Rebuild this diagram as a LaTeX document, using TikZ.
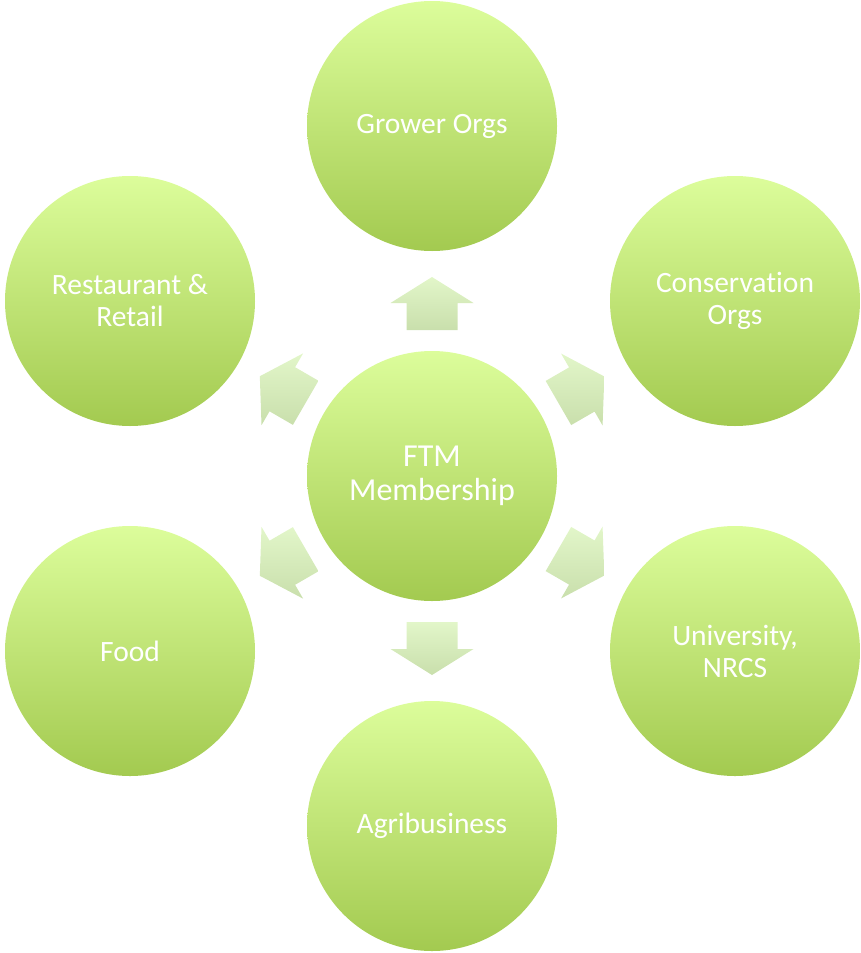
\documentclass[tikz,border=0pt]{standalone}
\usepackage{fontspec}
\setmainfont{Carlito}[Ligatures=NoCommon]
\usetikzlibrary{calc}

\definecolor{discTop}{HTML}{DCFD9B}
\definecolor{discBottom}{HTML}{A3CA50}
\definecolor{arrowTop}{HTML}{E2F6C9}
\definecolor{arrowBottom}{HTML}{C9DFAC}

\tikzset{
  disc/.style={circle, minimum size=250pt, inner sep=0pt,
    top color=discTop, bottom color=discBottom, draw=none,
    text=white, align=center, font=\fontsize{29.5}{32}\selectfont},
  hubdisc/.style={disc, font=\fontsize{32}{34}\selectfont},
  blockarrow/.style={top color=arrowTop, bottom color=arrowBottom, draw=none}
}

% block arrow from node #1 towards node #2, placed in the gap between them
\newcommand\ftmarrow[2]{%
  \coordinate (base) at ($(#1.center)!146pt!(#2.center)$);
  \coordinate (neck) at ($(#1.center)!173pt!(#2.center)$);
  \coordinate (tip)  at ($(#1.center)!199pt!(#2.center)$);
  \shade[blockarrow]
    ($(base)!25.5pt!90:(#1.center)$) --
    ($(neck)!25.5pt!90:(#1.center)$) --
    ($(neck)!41.5pt!90:(#1.center)$) --
    (tip) --
    ($(neck)!41.5pt!-90:(#1.center)$) --
    ($(neck)!25.5pt!-90:(#1.center)$) --
    ($(base)!25.5pt!-90:(#1.center)$) -- cycle;
}

\begin{document}
\begin{tikzpicture}[x=1pt,y=-1pt]
  \useasboundingbox (0,0) rectangle (861,953);

  \node[hubdisc] (ftm) at (432,476) {FTM\\Membership};
  \node[disc] (grow)  at (432,126) {Grower Orgs};
  \node[disc] (cons)  at (735,301) {Conservation\\Orgs};
  \node[disc] (univ)  at (735,651) {University,\\NRCS};
  \node[disc] (agri)  at (432,826) {Agribusiness};
  \node[disc] (food)  at (130,651) {Food};
  \node[disc] (rest)  at (130,301) {Restaurant \&\\Retail};

  \foreach \t in {grow,cons,univ,agri,food,rest}{
    \ftmarrow{ftm}{\t}
  }
\end{tikzpicture}
\end{document}
